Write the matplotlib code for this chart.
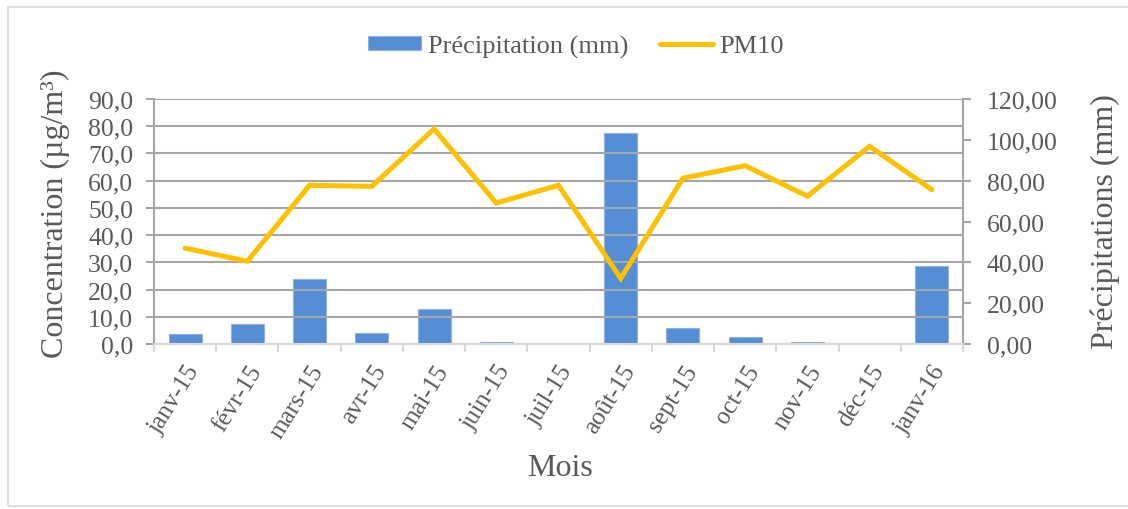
import matplotlib
matplotlib.use("Agg")
import matplotlib.pyplot as plt
from matplotlib.ticker import FuncFormatter, MultipleLocator
from matplotlib.patches import Rectangle
import numpy as np

plt.rcParams['font.family'] = ['Liberation Serif', 'DejaVu Serif']

# Monthly data
mois = ["janv-15", "févr-15", "mars-15", "avr-15", "mai-15", "juin-15", "juil-15",
        "août-15", "sept-15", "oct-15", "nov-15", "déc-15", "janv-16"]
precipitation_mm = [4.9, 10.0, 31.7, 5.5, 17.3, 1.0, 0.0, 103.5, 7.8, 3.3, 1.0, 0.0, 38.0]
pm10 = [35.2, 30.4, 58.3, 57.9, 79.0, 51.8, 58.3, 24.1, 60.9, 65.5, 54.3, 72.6, 56.7]

text_col = "#595959"
grid_col = "#A6A6A6"
bar_col = "#558ED5"
line_col = "#FFC000"

W, H = 1128, 510
fig = plt.figure(figsize=(W / 100, H / 100), dpi=100)
fig.patches.append(Rectangle((8 / W, 3 / H), 1.0, 499 / H, transform=fig.transFigure,
                             fill=False, edgecolor="#D9D9D9", linewidth=1.2))

x0, x1, ytop, ybot = 154, 963, 100, 345
ax = fig.add_axes([x0 / W, 1 - ybot / H, (x1 - x0) / W, (ybot - ytop) / H])
ax2 = ax.twinx()

x = np.arange(len(mois))

bars = ax2.bar(x, precipitation_mm, width=0.53, color=bar_col, edgecolor="#8DB3E2",
               linewidth=0.8, label="Précipitation (mm)", zorder=2)
line, = ax.plot(x, pm10, color=line_col, linewidth=3.6, solid_capstyle="round",
                solid_joinstyle="miter", label="PM10", zorder=3)

ax.set_zorder(ax2.get_zorder() + 1)
ax.patch.set_visible(False)

ax.set_xlim(-0.5, len(mois) - 0.5)
ax.set_ylim(0, 90)
ax2.set_ylim(0, 120)
ax.yaxis.set_major_locator(MultipleLocator(10))
ax2.yaxis.set_major_locator(MultipleLocator(20))
ax.yaxis.set_major_formatter(FuncFormatter(lambda v, p: f"{v:.1f}".replace(".", ",")))
ax2.yaxis.set_major_formatter(FuncFormatter(lambda v, p: f"{v:.2f}".replace(".", ",")))

ax.grid(axis="y", color=grid_col, linewidth=1.5, zorder=0)
ax.set_axisbelow(True)

for a in (ax, ax2):
    for s in a.spines.values():
        s.set_visible(False)
ax.spines["left"].set_visible(True)
ax.spines["left"].set_color(grid_col)
ax.spines["left"].set_linewidth(1.5)
ax2.spines["right"].set_visible(True)
ax2.spines["right"].set_color(grid_col)
ax2.spines["right"].set_linewidth(1.5)
ax.spines["bottom"].set_visible(True)
ax.spines["bottom"].set_color("#D9D9D9")
ax.spines["bottom"].set_linewidth(1.5)

# Category ticks between months
ax.set_xticks(np.arange(-0.5, len(mois), 1.0), minor=True)
ax.set_xticks(x)
ax.set_xticklabels(mois, rotation=58, ha="right", rotation_mode="anchor",
                   fontsize=18, color=text_col)
ax.tick_params(axis="x", which="major", length=0, pad=12)
ax.tick_params(axis="x", which="minor", length=6, color="#D9D9D9", width=1.5)
ax.tick_params(axis="y", length=6, color=grid_col, width=1.5, labelsize=18.5,
               labelcolor=text_col, pad=9)
ax2.tick_params(axis="y", length=6, color=grid_col, width=1.5, labelsize=18.5,
                labelcolor=text_col, pad=11)

ax.set_ylabel("Concentration (µg/m³)", fontsize=23, color=text_col)
ax.yaxis.set_label_coords((70 - x0) / (x1 - x0), (ybot - 213.5) / (ybot - ytop))
ax2.set_ylabel("Précipitations (mm)", fontsize=23, color=text_col)
ax2.yaxis.set_label_coords((1090 - x0) / (x1 - x0), (ybot - 221.5) / (ybot - ytop))
ax.set_xlabel("Mois", fontsize=23, color=text_col)
ax.xaxis.set_label_coords((560 - x0) / (x1 - x0), (ybot - 454) / (ybot - ytop))

fig.legend(handles=[bars, line], labels=["Précipitation (mm)", "PM10"],
           loc="center", bbox_to_anchor=(0.5 + 12 / W, 1 - 47 / H), ncol=2, frameon=False,
           fontsize=19, labelcolor=text_col, handlelength=2.0, handleheight=0.45,
           columnspacing=1.2, handletextpad=0.25)

fig.savefig("out.png", dpi=100)
